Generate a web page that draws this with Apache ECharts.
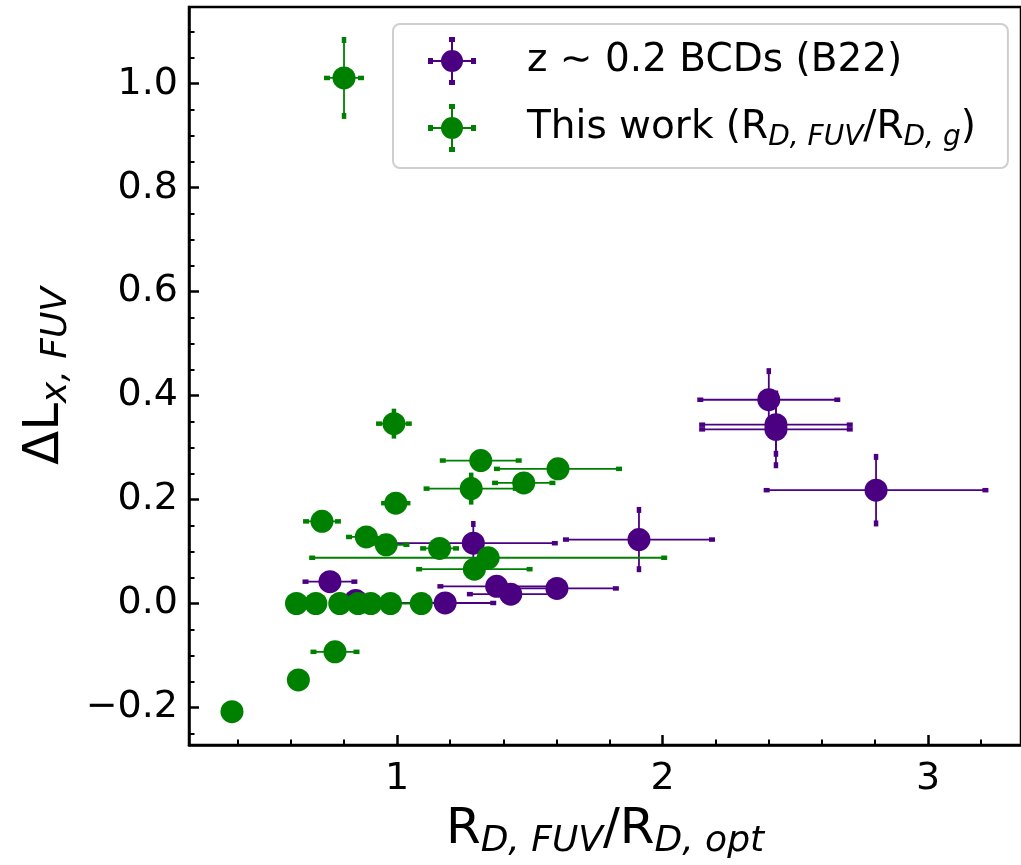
<!DOCTYPE html>
<html>
<head>
<meta charset="utf-8">
<script src="https://cdn.jsdelivr.net/npm/echarts@6/dist/echarts.min.js"></script>
<style>
  html, body { margin: 0; padding: 0; background: #ffffff; }
  #chart { width: 1021px; height: 865px; }
</style>
</head>
<body>
<div id="chart"></div>
<script>
// z ~ 0.2 BCDs (B22): size ratio, luminosity offset and their errors
const b22X    = [0.747, 0.844, 1.181, 1.287, 1.375, 1.428, 1.602, 1.911, 2.400, 2.427, 2.427, 2.804];
const b22Y    = [0.042, 0.006, 0.001, 0.116, 0.033, 0.018, 0.029, 0.123, 0.392, 0.344, 0.335, 0.218];
const b22Xerr = [0.092, 0.030, 0.181, 0.307, 0.212, 0.154, 0.222, 0.275, 0.258, 0.278, 0.278, 0.412];
const b22Yerr = [0.010, 0.010, 0.010, 0.037, 0.010, 0.010, 0.010, 0.057, 0.055, 0.056, 0.069, 0.064];

// This work (R_D,FUV / R_D,g)
const thisX    = [0.800, 0.988, 1.315, 1.606, 1.279, 1.477, 0.995, 0.717, 0.884, 0.959, 1.160, 1.343, 1.291,
                  0.621, 0.694, 0.784, 0.853, 0.901, 0.975, 1.091, 0.766, 0.628, 0.378];
const thisY    = [1.011, 0.346, 0.275, 0.259, 0.221, 0.232, 0.193, 0.158, 0.128, 0.113, 0.106, 0.088, 0.066,
                  0.000, 0.000, 0.000, 0.000, 0.000, 0.000, 0.000, -0.093, -0.147, -0.208];
const thisXerr = [0.064, 0.056, 0.143, 0.230, 0.168, 0.108, 0.044, 0.060, 0.065, 0.076, 0.062, 0.663, 0.208,
                  0.000, 0.000, 0.000, 0.000, 0.000, 0.110, 0.000, 0.081, 0.000, 0.000];
const thisYerr = [0.073, 0.023, 0.010, 0.010, 0.025, 0.010, 0.010, 0.010, 0.010, 0.010, 0.010, 0.010, 0.010,
                  0.000, 0.000, 0.000, 0.000, 0.000, 0.000, 0.000, 0.010, 0.000, 0.000];

// axis ticks
const xMajorTicks = [1, 2, 3];
const xMinorTicks = [0.4, 0.6, 0.8, 1.2, 1.4, 1.6, 1.8, 2.2, 2.4, 2.6, 2.8, 3.2];
const yMajorTicks = [-0.2, 0.0, 0.2, 0.4, 0.6, 0.8, 1.0];
const yMinorTicks = [-0.25, -0.15, -0.1, -0.05, 0.05, 0.1, 0.15, 0.25, 0.3, 0.35, 0.45, 0.5, 0.55,
                     0.65, 0.7, 0.75, 0.85, 0.9, 0.95, 1.05, 1.1];

const NAME_B22 = 'z \u223C 0.2 BCDs (B22)';
const NAME_THIS = 'This work';
const PURPLE = '#4b0082';
const GREEN = '#008000';
const FONT = 'DejaVu Sans';

const X_MIN = 0.2161, X_MAX = 3.35;
const Y_MIN = -0.2722, Y_MAX = 1.1475;

function zipErr(xs, ys, xe, ye) {
  return xs.map((x, i) => [x, ys[i], xe[i], ye[i]]);
}
function zipXY(xs, ys) {
  return xs.map((x, i) => [x, ys[i]]);
}

// error bars with small caps, placed through the cartesian coordinate system
function errorBarRenderer(color) {
  return function (params, api) {
    const x = api.value(0), y = api.value(1), xe = api.value(2), ye = api.value(3);
    const c = api.coord([x, y]);
    const lw = 1.8, along = 6, across = 4.5;
    const children = [];
    if (xe > 0) {
      const l = api.coord([x - xe, y]), r = api.coord([x + xe, y]);
      children.push({ type: 'line', shape: { x1: l[0], y1: c[1], x2: r[0], y2: c[1] },
                      style: { stroke: color, lineWidth: lw } });
      [l[0], r[0]].forEach(px => children.push({ type: 'rect',
        shape: { x: px - along / 2, y: c[1] - across / 2, width: along, height: across },
        style: { fill: color } }));
    }
    if (ye > 0) {
      const t = api.coord([x, y + ye]), b = api.coord([x, y - ye]);
      children.push({ type: 'line', shape: { x1: c[0], y1: t[1], x2: c[0], y2: b[1] },
                      style: { stroke: color, lineWidth: lw } });
      [t[1], b[1]].forEach(py => children.push({ type: 'rect',
        shape: { x: c[0] - across / 2, y: py - along / 2, width: across, height: along },
        style: { fill: color } }));
    }
    return { type: 'group', children: children };
  };
}

// legend marker: filled circle with an error-bar cross
const ERR_ICON = 'path://M0,23h48v2H0z M23,0h2v48h-2z M0,21h5v6H0z M43,21h5v6h-5z M21,0h6v5h-6z M21,43h6v5h-6z M13,24a11,11 0 1,1 22,0a11,11 0 1,1 -22,0z';

const fmtTick = v => (v < 0 ? '\u2212' : '') + Math.abs(v).toFixed(1);

const chart = echarts.init(document.getElementById('chart'), null, { renderer: 'canvas' });

const axisTitleRich = {
  n: { fontFamily: FONT, fontSize: 50, color: '#000', lineHeight: 60, verticalAlign: 'middle' },
  s: { fontFamily: FONT, fontSize: 36, fontStyle: 'italic', color: '#000', lineHeight: 30, verticalAlign: 'bottom' }
};

chart.setOption({
  animation: false,
  backgroundColor: '#ffffff',
  grid: {
    left: 189, top: 7, width: 836.5, height: 739,
    show: true, borderColor: '#000', borderWidth: 2.5, backgroundColor: 'transparent'
  },
  legend: {
    orient: 'vertical',
    left: 393, top: 24,
    padding: [13, 32, 16, 35],
    itemWidth: 48, itemHeight: 48, itemGap: 19,
    backgroundColor: 'rgba(255,255,255,0.85)',
    borderColor: '#cfcfcf', borderWidth: 2, borderRadius: 7,
    selectedMode: false,
    data: [
      { name: NAME_B22, icon: ERR_ICON, itemStyle: { color: PURPLE } },
      { name: NAME_THIS, icon: ERR_ICON, itemStyle: { color: GREEN } }
    ],
    formatter: function (name) {
      if (name === NAME_THIS) return '{n|This work (R}{s|D, FUV}{n|/R}{s|D, g}{n|)}';
      return '{n|' + name + '}';
    },
    textStyle: {
      padding: [0, 0, 0, 46],
      fontFamily: FONT, fontSize: 39, color: '#000',
      rich: {
        n: { fontFamily: FONT, fontSize: 39, color: '#000', lineHeight: 48, verticalAlign: 'middle' },
        s: { fontFamily: FONT, fontSize: 28, fontStyle: 'italic', color: '#000', lineHeight: 24, verticalAlign: 'bottom' }
      }
    }
  },
  xAxis: [
    {
      type: 'value', min: X_MIN, max: X_MAX, position: 'bottom',
      name: '{n|R}{s|D, FUV}{n|/R}{s|D, opt}',
      nameLocation: 'middle', nameGap: 55,
      nameTextStyle: { rich: axisTitleRich },
      axisLine: { show: true, onZero: false, lineStyle: { color: '#000', width: 2.5 } },
      axisTick: { show: true, inside: true, length: 10, customValues: xMajorTicks,
                  lineStyle: { color: '#000', width: 2.5 } },
      axisLabel: { show: true, customValues: xMajorTicks, margin: 14, fontFamily: FONT, fontSize: 38,
                   lineHeight: 40, color: '#000', formatter: v => String(Math.round(v)) },
      splitLine: { show: false }
    },
    {
      type: 'value', min: X_MIN, max: X_MAX, position: 'bottom',
      axisLine: { show: false, onZero: false },
      axisTick: { show: true, inside: true, length: 5.5, customValues: xMinorTicks,
                  lineStyle: { color: '#000', width: 2 } },
      axisLabel: { show: false },
      splitLine: { show: false }
    }
  ],
  yAxis: [
    {
      type: 'value', min: Y_MIN, max: Y_MAX, position: 'left',
      name: '{n|\u0394L}{s|x, FUV}',
      nameLocation: 'middle', nameRotate: 90, nameGap: 114,
      nameTextStyle: { rich: axisTitleRich },
      axisLine: { show: true, onZero: false, lineStyle: { color: '#000', width: 2.5 } },
      axisTick: { show: true, inside: true, length: 10, customValues: yMajorTicks,
                  lineStyle: { color: '#000', width: 2.5 } },
      axisLabel: { show: true, customValues: yMajorTicks, margin: 11, fontFamily: FONT, fontSize: 38,
                   color: '#000', formatter: fmtTick },
      splitLine: { show: false }
    },
    {
      type: 'value', min: Y_MIN, max: Y_MAX, position: 'left',
      axisLine: { show: false, onZero: false },
      axisTick: { show: true, inside: true, length: 5.5, customValues: yMinorTicks,
                  lineStyle: { color: '#000', width: 2 } },
      axisLabel: { show: false },
      splitLine: { show: false }
    }
  ],
  series: [
    {
      name: NAME_B22, type: 'custom', xAxisIndex: 0, yAxisIndex: 0,
      renderItem: errorBarRenderer(PURPLE),
      encode: { x: 0, y: 1 },
      data: zipErr(b22X, b22Y, b22Xerr, b22Yerr), silent: true, z: 2
    },
    {
      name: NAME_B22, type: 'scatter', xAxisIndex: 0, yAxisIndex: 0,
      symbol: 'circle', symbolSize: 23,
      itemStyle: { color: PURPLE, opacity: 1 },
      data: zipXY(b22X, b22Y), silent: true, z: 3
    },
    {
      name: NAME_THIS, type: 'custom', xAxisIndex: 0, yAxisIndex: 0,
      renderItem: errorBarRenderer(GREEN),
      encode: { x: 0, y: 1 },
      data: zipErr(thisX, thisY, thisXerr, thisYerr), silent: true, z: 4
    },
    {
      name: NAME_THIS, type: 'scatter', xAxisIndex: 0, yAxisIndex: 0,
      symbol: 'circle', symbolSize: 23,
      itemStyle: { color: GREEN, opacity: 1 },
      data: zipXY(thisX, thisY), silent: true, z: 5
    }
  ]
});
</script>
</body>
</html>
